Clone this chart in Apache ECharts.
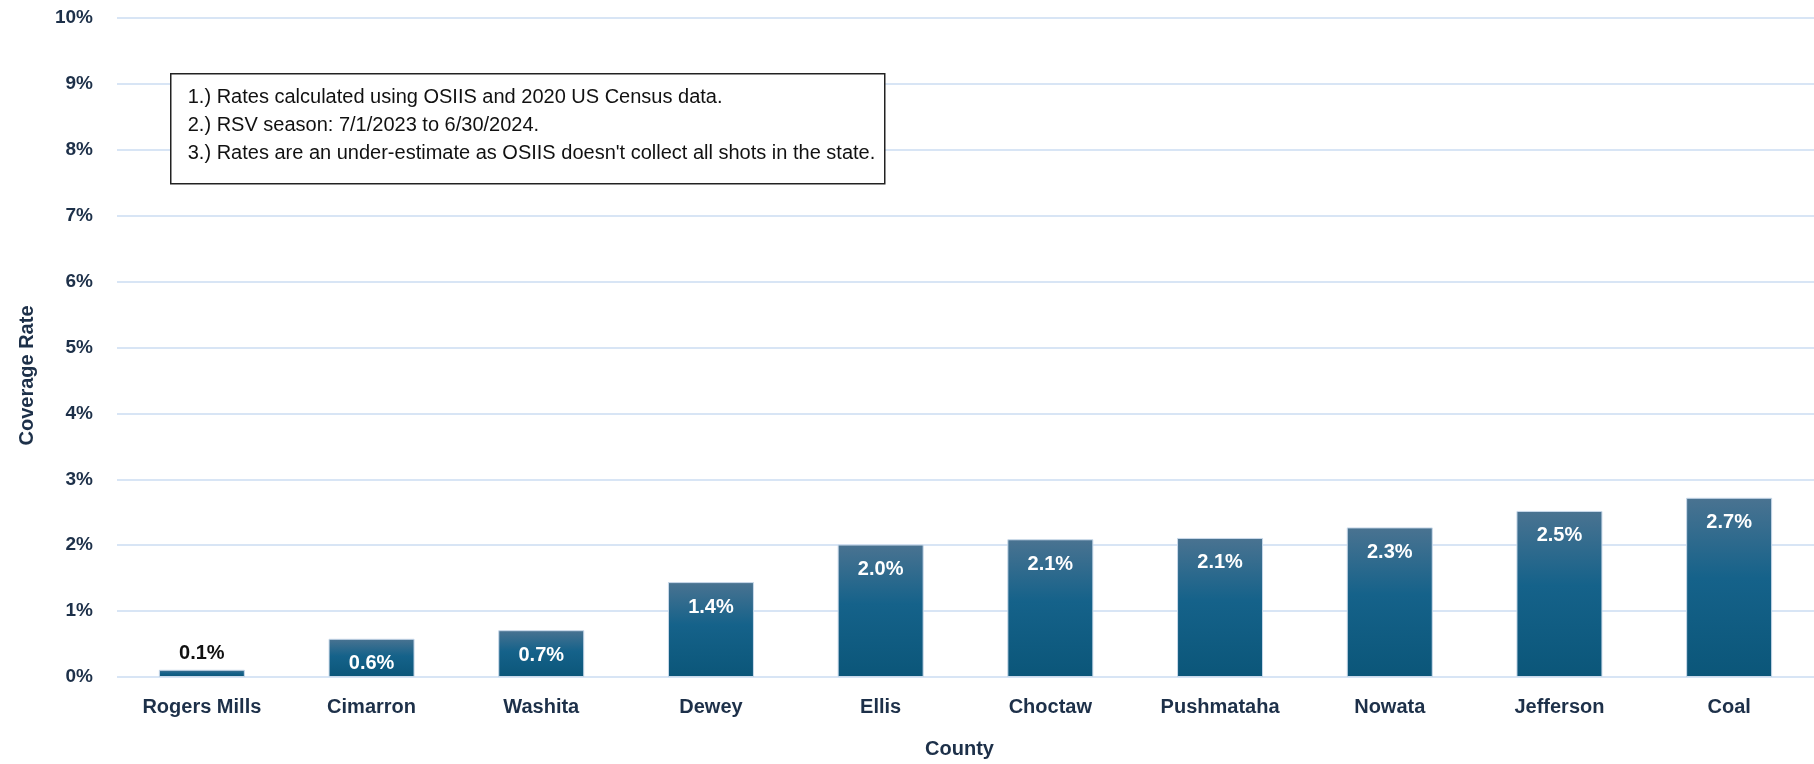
<!DOCTYPE html>
<html>
<head>
<meta charset="utf-8">
<title>Coverage Rate by County</title>
<script src="https://cdn.jsdelivr.net/npm/echarts@6/dist/echarts.min.js"></script>
<style>
  html, body { margin: 0; padding: 0; background: #fff; }
  #main { width: 1814px; height: 764px; }
</style>
</head>
<body>
<div id="main"></div>
<script>
const counties = ['Rogers Mills', 'Cimarron', 'Washita', 'Dewey', 'Ellis', 'Choctaw', 'Pushmataha', 'Nowata', 'Jefferson', 'Coal'];
const coverage = [0.11, 0.58, 0.71, 1.44, 2.01, 2.09, 2.11, 2.27, 2.52, 2.72];
const notes = [
  '1.) Rates calculated using OSIIS and 2020 US Census data.',
  '2.) RSV season: 7/1/2023 to 6/30/2024.',
  "3.) Rates are an under-estimate as OSIIS doesn't collect all shots in the state."
];

const font = '"Liberation Sans Narrow", "Liberation Sans", Arial, sans-serif';
const navy = '#1d3049';

const chart = echarts.init(document.getElementById('main'), null, { renderer: 'canvas' });

// first bar is too short for an inside label, put it on top
const barData = coverage.map(function (v, i) {
  if (i === 0) {
    return { value: v, label: { position: 'top', color: '#111', distance: 6 } };
  }
  return v;
});

const option = {
  backgroundColor: '#fff',
  animation: false,
  grid: { left: 117, top: 18, width: 1713, height: 662 },
  xAxis: {
    type: 'category',
    data: counties,
    name: 'County',
    nameLocation: 'middle',
    nameGap: 62,
    nameTextStyle: { fontFamily: font, fontWeight: 'bold', fontSize: 20, color: navy, padding: [0, 12, 0, 0] },
    axisLine: { show: false },
    axisTick: { show: false },
    axisLabel: { interval: 0, fontFamily: font, fontWeight: 'bold', fontSize: 20, color: navy, margin: 20 }
  },
  yAxis: {
    type: 'value',
    min: 0,
    max: 10,
    interval: 1,
    name: 'Coverage Rate',
    nameLocation: 'middle',
    nameGap: 80,
    nameTextStyle: { fontFamily: font, fontWeight: 'bold', fontSize: 20, color: navy, padding: [0, 56, 0, 0] },
    axisLabel: {
      fontFamily: font, fontWeight: 'bold', fontSize: 19, color: navy, margin: 24,
      formatter: function (v) { return v + '%'; }
    },
    splitLine: { lineStyle: { color: '#d8e5f5', width: 2 } }
  },
  series: [{
    type: 'bar',
    data: barData,
    barWidth: 86,
    itemStyle: {
      borderColor: '#c9d9ea',
      borderWidth: 1,
      color: new echarts.graphic.LinearGradient(0, 0, 0, 1, [
        { offset: 0, color: '#4a7391' },
        { offset: 0.45, color: '#15628a' },
        { offset: 1, color: '#0b5679' }
      ])
    },
    label: {
      show: true,
      position: 'insideTop',
      distance: 15,
      color: '#fff',
      fontFamily: font,
      fontWeight: 'bold',
      fontSize: 20,
      formatter: function (p) { return p.value.toFixed(1) + '%'; }
    }
  }],
  graphic: [{
    type: 'group',
    left: 170,
    top: 73,
    z: 100,
    children: [{
      type: 'rect',
      z: 100,
      shape: { x: 0, y: 0, width: 714, height: 110 },
      style: { fill: '#fff', stroke: '#222', lineWidth: 1.5 }
    }, {
      type: 'text',
      z: 101,
      x: 17,
      y: 10,
      style: {
        text: notes.join('\n'),
        font: '20px ' + font,
        lineHeight: 28,
        fill: '#111'
      }
    }]
  }]
};

chart.setOption(option);
</script>
</body>
</html>
